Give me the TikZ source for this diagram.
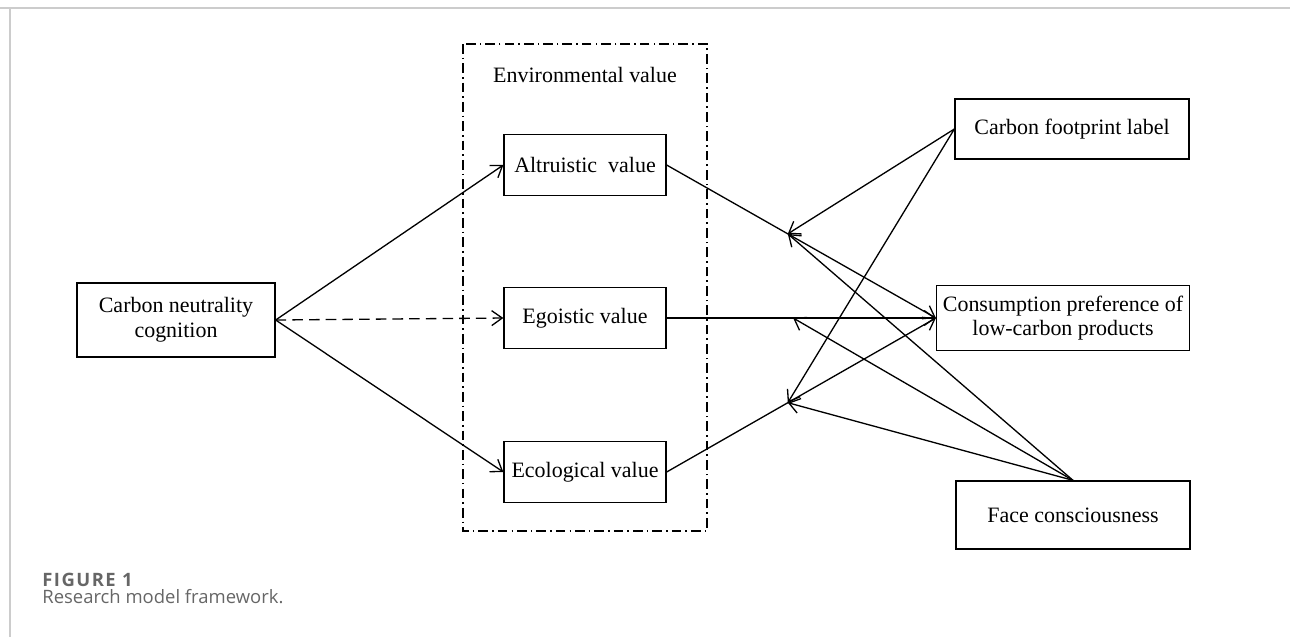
\documentclass[tikz,border=0pt]{standalone}
\usepackage{fontspec}
\setmainfont{Liberation Serif}
\newfontfamily\capfont{Open Sans}
\usetikzlibrary{arrows.meta}

\definecolor{rulegray}{HTML}{CCCCCC}
\definecolor{capgray}{HTML}{666666}

\begin{document}
\begin{tikzpicture}[
    x=0.02cm, y=-0.02cm,
    box/.style={
        draw,
        line width=0.75pt,
        align=center,
        inner sep=2pt,
        font=\fontsize{12.5}{14}\selectfont
    },
    valbox/.style={box, minimum width=3.24cm, minimum height=1.22cm},
    sidebox/.style={box, minimum width=4.68cm, minimum height=1.22cm},
    arrow/.style={-{Straight Barb[length=6pt,width=8.5pt]}, line width=0.75pt},
    frame/.style={line width=0.8pt, dash pattern=on 5.5pt off 2.3pt on 0.9pt off 2.3pt}
]
\useasboundingbox (0,0) rectangle (1290,637);

% page rules
\draw[rulegray, line width=0.8pt] (0,8) -- (1290,8);
\draw[rulegray, line width=0.8pt] (10,8) -- (10,637);

% environmental value frame
\draw[frame] (463,44) rectangle (707,531);
\node[font=\fontsize{12.5}{14}\selectfont] (env) at (585,75) {Environmental value};

\node[box, minimum width=3.96cm, minimum height=1.48cm] (cnc) at (176,320) {Carbon neutrality\\cognition};
\node[valbox] (alt) at (585,165) {Altruistic~ value};
\node[valbox] (ego) at (585,318) {Egoistic value};
\node[valbox] (eco) at (585,472) {Ecological value};

\node[sidebox, minimum height=1.2cm] (cfl) at (1072,129) {Carbon footprint label};
\node[box, minimum width=5.06cm, minimum height=1.3cm] (cpl) at (1063,318) {Consumption preference of\\low-carbon products};
\node[sidebox, minimum height=1.36cm] (fc) at (1073,515) {Face consciousness};

\draw[arrow] (cnc.east) -- (alt.west);
\draw[arrow, dash pattern=on 6pt off 3.5pt] (cnc.east) -- (ego.west);
\draw[arrow] (cnc.east) -- (eco.west);

\draw[arrow] (alt.east) -- coordinate[pos=0.45] (ma) (cpl.west);
\draw[arrow] (ego.east) -- coordinate[pos=0.47] (mb) (cpl.west);
\draw[arrow] (eco.east) -- coordinate[pos=0.45] (mc) (cpl.west);

\draw[arrow] (cfl.west) -- (ma);
\draw[arrow] (cfl.west) -- (mc);
\draw[arrow] (fc.north) -- (ma);
\draw[arrow] (fc.north) -- (mb);
\draw[arrow] (fc.north) -- (mc);

% caption
\node[anchor=base west, inner sep=0pt, text=capgray, font=\capfont\bfseries\fontsize{10.5}{12}\selectfont\addfontfeatures{LetterSpace=8}] (fig) at (42,586) {FIGURE 1};
\node[anchor=base west, inner sep=0pt, text=capgray, font=\capfont\fontsize{10.5}{12}\selectfont] (cap) at (42,603) {Research model framework.};
\end{tikzpicture}
\end{document}
